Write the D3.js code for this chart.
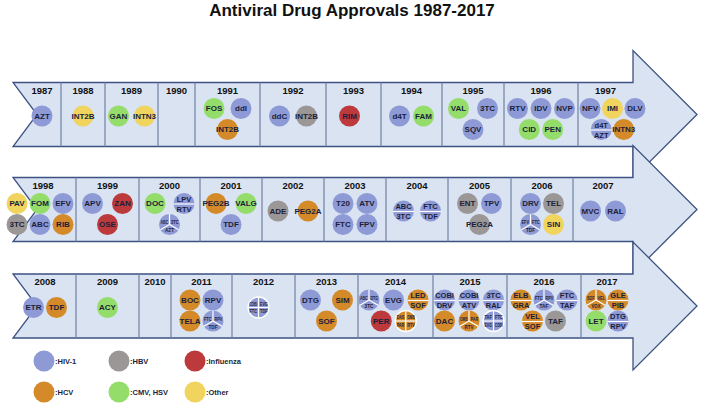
<!DOCTYPE html>
<html><head><meta charset="utf-8">
<script src="https://cdn.jsdelivr.net/npm/d3@7"></script>
<style>body{margin:0;background:#fff}svg{display:block}text{font-family:"Liberation Sans",Arial,sans-serif;font-weight:bold}</style>
</head><body><svg id="c" width="705" height="405"></svg>
<script>
// ---------------- data ----------------
const title = "Antiviral Drug Approvals 1987-2017";
const categories = ["HIV-1", "HBV", "Influenza", "HCV", "CMV, HSV", "Other"];
const legendLabels = [":HIV-1", ":HBV", ":Influenza", ":HCV", ":CMV, HSV", ":Other"];
const rowYears = [
  [1987, 1988, 1989, 1990, 1991, 1992, 1993, 1994, 1995, 1996, 1997],
  [1998, 1999, 2000, 2001, 2002, 2003, 2004, 2005, 2006, 2007],
  [2008, 2009, 2010, 2011, 2012, 2013, 2014, 2015, 2016, 2017]
];
// [year, drug label ("/" = combination), category index]
const drugs = [
  [1987, "AZT", 0],
  [1988, "INT2B", 5],
  [1989, "GAN", 4], [1989, "INTN3", 5],
  [1991, "FOS", 4], [1991, "ddI", 0], [1991, "INT2B", 3],
  [1992, "ddC", 0], [1992, "INT2B", 1],
  [1993, "RIM", 2],
  [1994, "d4T", 0], [1994, "FAM", 4],
  [1995, "VAL", 4], [1995, "3TC", 0], [1995, "SQV", 0],
  [1996, "RTV", 0], [1996, "IDV", 0], [1996, "NVP", 0], [1996, "CID", 4], [1996, "PEN", 4],
  [1997, "NFV", 0], [1997, "IMI", 5], [1997, "DLV", 0], [1997, "d4T/AZT", 0], [1997, "INTN3", 3],
  [1998, "PAV", 5], [1998, "FOM", 4], [1998, "EFV", 0], [1998, "3TC", 1], [1998, "ABC", 0], [1998, "RIB", 3],
  [1999, "APV", 0], [1999, "ZAN", 2], [1999, "OSE", 2],
  [2000, "DOC", 4], [2000, "LPV/RTV", 0], [2000, "ABC/3TC/AZT", 0],
  [2001, "PEG2B", 3], [2001, "VALG", 4], [2001, "TDF", 0],
  [2002, "ADE", 1], [2002, "PEG2A", 3],
  [2003, "T20", 0], [2003, "ATV", 0], [2003, "FTC", 0], [2003, "FPV", 0],
  [2004, "ABC/3TC", 0], [2004, "FTC/TDF", 0],
  [2005, "ENT", 1], [2005, "TPV", 0], [2005, "PEG2A", 1],
  [2006, "DRV", 0], [2006, "TEL", 1], [2006, "EFV/FTC/TDF", 0], [2006, "SIN", 5],
  [2007, "MVC", 0], [2007, "RAL", 0],
  [2008, "ETR", 0], [2008, "TDF", 3],
  [2009, "ACY", 4],
  [2011, "BOC", 3], [2011, "RPV", 0], [2011, "TELA", 3], [2011, "FTC/RPV/TDF", 0],
  [2012, "COBI/EVG/FTC/TDF", 0],
  [2013, "DTG", 0], [2013, "SIM", 3], [2013, "SOF", 3],
  [2014, "ABC/DTG/3TC", 0], [2014, "EVG", 0], [2014, "LED/SOF", 3], [2014, "PER", 2], [2014, "DAS/OMB/PAR/RTV", 3],
  [2015, "COBI/DRV", 0], [2015, "COBI/ATV", 0], [2015, "3TC/RAL", 0], [2015, "DAC", 3], [2015, "OMB/PAR/RTV", 3], [2015, "TAF/FTC/EVG/COBI", 0],
  [2016, "ELB/GRA", 3], [2016, "FTC/RPV/TAF", 0], [2016, "FTC/TAF", 0], [2016, "VEL/SOF", 3], [2016, "TAF", 1],
  [2017, "SOF/VEL/VOX", 3], [2017, "GLE/PIB", 3], [2017, "LET", 4], [2017, "DTG/RPV", 0]
];

// ---------------- layout / style ----------------
const palette = ["#8e9ad6", "#9b9797", "#bd3a3c", "#d48a28", "#95dd6a", "#f0d45e"];
const color = d3.scaleOrdinal().domain(d3.range(categories.length)).range(palette);
const cellEdges = [
  [23, 61, 105, 158, 195, 260, 326, 381, 442, 504, 578, 633],
  [10, 76, 139, 200, 262, 324, 386, 448, 511, 573, 633],
  [14, 76, 139, 171, 232, 295, 358, 433, 507, 581, 633]
];
// circle arrangement per year: circles per line, spacing, horizontal shift
const arrange = {
  1989: [[2], 26], 1991: [[2, 1], 27], 1992: [[2], 27], 1993: [[1], 0, -4], 1994: [[2], 24],
  1995: [[2, 1], 29], 1996: [[3, 2], 23.5], 1997: [[3, 2], 22.5, 7],
  1998: [[3, 3], 23, -3], 1999: [[2, 1], 30], 2000: [[2, 1], 29], 2001: [[2, 1], 30], 2002: [[2], 30],
  2003: [[2, 2], 24], 2004: [[2], 27], 2005: [[2, 1], 24], 2006: [[2, 2], 23], 2007: [[2], 25],
  2008: [[2], 23], 2011: [[2, 2], 23], 2012: [[1], 0, -5], 2013: [[2, 1], 32],
  2014: [[3, 2], 24.5, -2], 2015: [[3, 3], 24.5, -1], 2016: [[3, 2], 23], 2017: [[2, 2], 22]
};
const rowMid = d3.scaleOrdinal().domain([0, 1, 2]).range([114.5, 209.5, 306]);
const X0 = 13, NOTCH = 37, BASE = 633, APEX = 697, BODY = 32, HEAD = 64, R = 10.5;

const svg = d3.select("#c");

svg.append("text").attr("x", 352).attr("y", 16).attr("text-anchor", "middle")
  .style("font-size", "17px").attr("fill", "#111").text(title);

// arrows
rowYears.forEach((yrs, r) => {
  const m = rowMid(r);
  const pts = [[X0, m - BODY], [BASE, m - BODY], [BASE, m - HEAD], [APEX, m], [BASE, m + HEAD],
               [BASE, m + BODY], [X0, m + BODY], [NOTCH, m]];
  svg.append("path").attr("d", d3.line()(pts) + "Z")
    .attr("fill", "#dae3f1").attr("stroke", "#3d5282").attr("stroke-width", 1.3)
    .attr("stroke-linejoin", "miter");
  const edges = cellEdges[r];
  edges.slice(1, -1).forEach(e => {
    svg.append("line").attr("x1", e).attr("x2", e).attr("y1", m - BODY).attr("y2", m + BODY)
      .attr("stroke", "#6f80a6").attr("stroke-width", 1.2);
  });
  yrs.forEach((y, i) => {
    const cx = (edges[i] + edges[i + 1]) / 2;
    svg.append("text").attr("x", cx).attr("y", m - 24).attr("dy", "0.35em")
      .attr("text-anchor", "middle").style("font-size", "9.5px").attr("fill", "#111").text(y);
  });
});

// circles
const byYear = d3.group(drugs, d => d[0]);
function drawDrug(g, cx, cy, label, cat) {
  const parts = label.split("/");
  const n = parts.length;
  const gg = g.append("g").attr("transform", `translate(${cx},${cy})`);
  gg.append("circle").attr("r", R).attr("fill", color(cat))
    .attr("stroke", n === 4 ? "#fff" : "none").attr("stroke-width", 1.3);
  const txt = (x, y, s, fs, maxW) => {
    const t = gg.append("text").attr("x", x).attr("y", y).attr("dy", "0.35em")
      .attr("text-anchor", "middle").style("font-size", fs + "px").attr("fill", "#1c1f3b").text(s);
    if (maxW && t.node().getComputedTextLength() > maxW) {
      t.attr("textLength", maxW).attr("lengthAdjust", "spacingAndGlyphs");
    }
    return t;
  };
  const wl = (x1, y1, x2, y2) => gg.append("line").attr("x1", x1).attr("y1", y1).attr("x2", x2).attr("y2", y2)
    .attr("stroke", "#fff").attr("stroke-width", 1.2);
  if (n === 1) {
    txt(0, 0, parts[0], 8);
  } else if (n === 2) {
    wl(-R, 0.5, R, 0.5);
    txt(0, -4.2, parts[0], 7.5);
    txt(0, 5.4, parts[1], 7.5);
  } else if (n === 3) {
    wl(0, 0, 0, -R); wl(0, 0, -R * 0.866, R * 0.5); wl(0, 0, R * 0.866, R * 0.5);
    txt(-5.3, -1.8, parts[0], 4.6, 7.6);
    txt(5.3, -1.8, parts[1], 4.6, 7.6);
    txt(0, 6, parts[2], 4.8, 9);
  } else {
    wl(-R, 0, R, 0); wl(0, -R, 0, R);
    txt(-5.3, -3.6, parts[0], 4.6, 7.6);
    txt(5.3, -3.6, parts[1], 4.6, 7.6);
    txt(-5.3, 4, parts[2], 4.6, 7.6);
    txt(5.3, 4, parts[3], 4.6, 7.6);
  }
}
const cg = svg.append("g");
rowYears.forEach((yrs, r) => {
  const m = rowMid(r);
  const edges = cellEdges[r];
  yrs.forEach((y, i) => {
    const list = byYear.get(y);
    if (!list) return;
    const a = arrange[y] || [[list.length], 24, 0];
    const lines = a[0], gap = a[1], dx = a[2] || 0;
    const cc = (edges[i] + edges[i + 1]) / 2 + dx;
    let k = 0;
    lines.forEach((cnt, li) => {
      const cy = lines.length === 1 ? m + 1.5 : (li === 0 ? m - 6 : m + 15);
      for (let c = 0; c < cnt && k < list.length; c++, k++) {
        const cx = cc + (c - (cnt - 1) / 2) * gap;
        drawDrug(cg, cx, cy, list[k][1], list[k][2]);
      }
    });
  });
});

// legend
const legX = [44, 119, 195];
const legY = [361, 392];
categories.forEach((c, i) => {
  const x = legX[i % 3], y = legY[Math.floor(i / 3)];
  svg.append("circle").attr("cx", x).attr("cy", y).attr("r", 10.5).attr("fill", color(i));
  svg.append("text").attr("x", x + 11).attr("y", y).attr("dy", "0.35em")
    .style("font-size", "7.5px").attr("fill", "#1c1f3b").text(legendLabels[i]);
});
</script></body></html>
